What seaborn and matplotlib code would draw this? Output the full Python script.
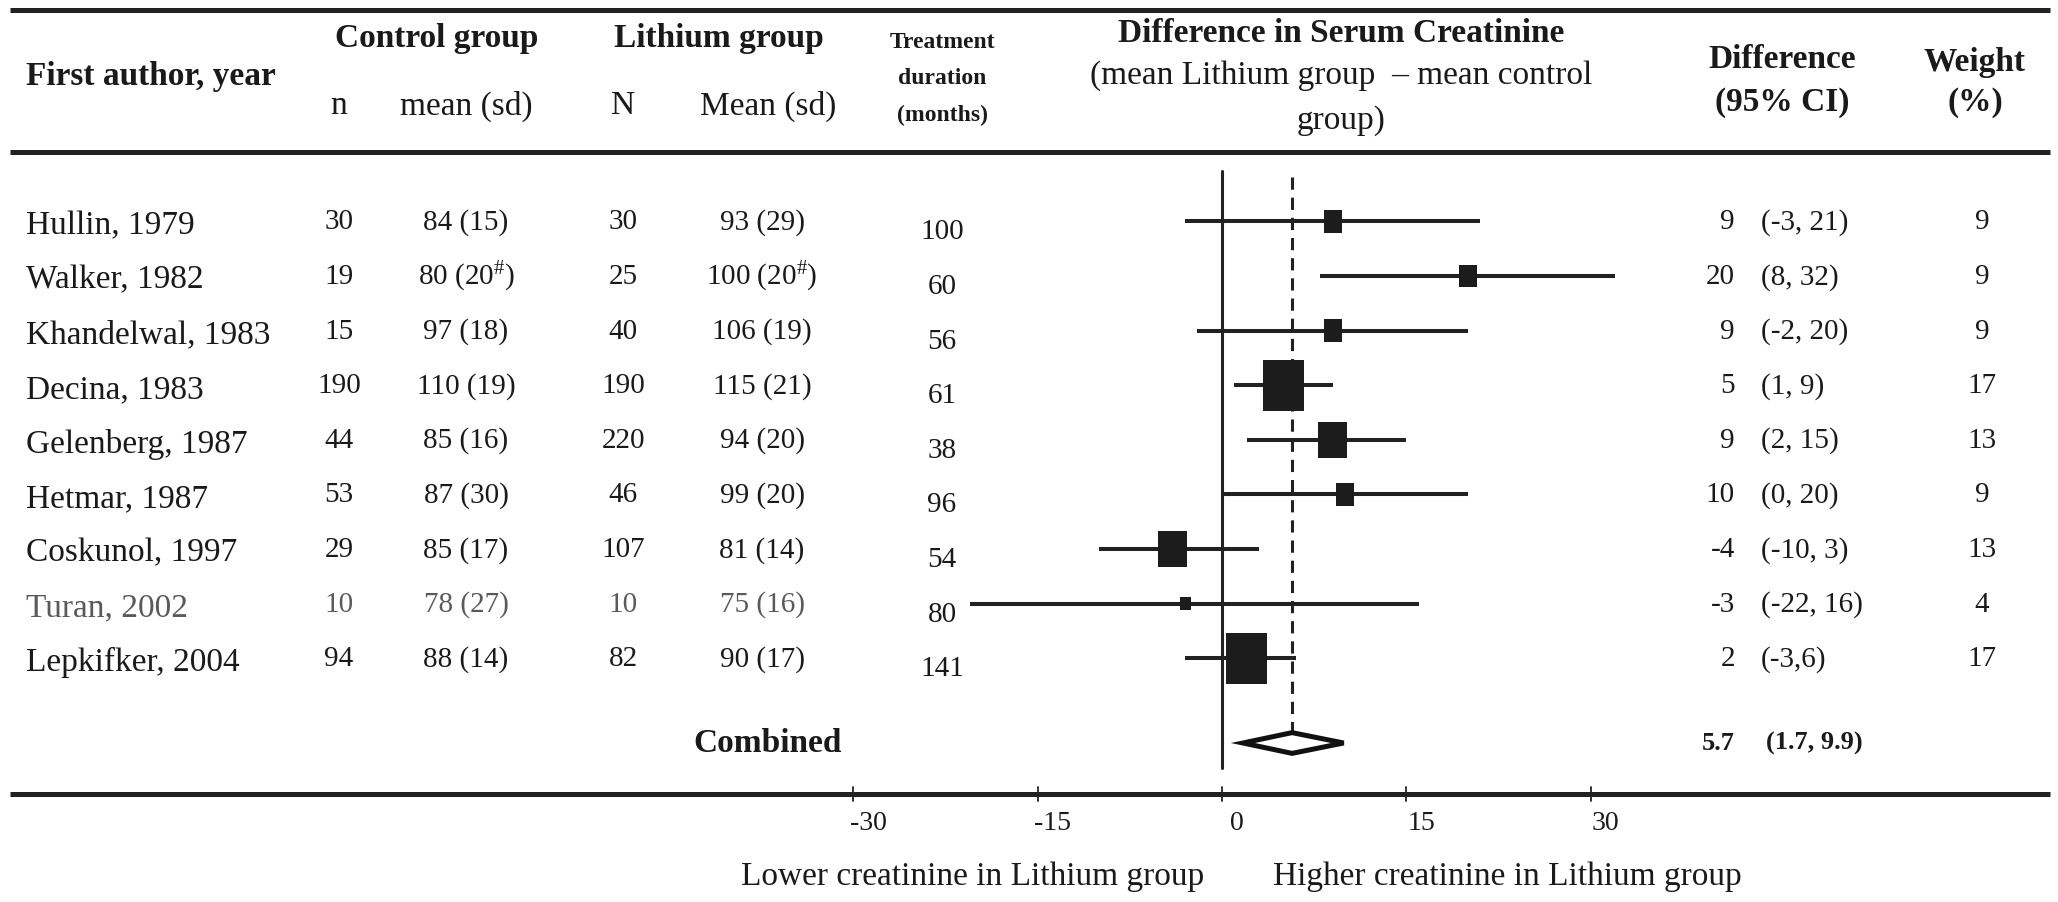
import numpy as np
import pandas as pd
import matplotlib
matplotlib.use("Agg")
import matplotlib.pyplot as plt
import seaborn as sns

# ---------------- data ----------------
studies = ["Hullin, 1979", "Walker, 1982", "Khandelwal, 1983", "Decina, 1983",
           "Gelenberg, 1987", "Hetmar, 1987", "Coskunol, 1997", "Turan, 2002",
           "Lepkifker, 2004"]
control_n = ["30", "19", "15", "190", "44", "53", "29", "10", "94"]
control_mean_sd = ["84 (15)", "80 (20$^{\\#}$)", "97 (18)", "110 (19)", "85 (16)",
                   "87 (30)", "85 (17)", "78 (27)", "88 (14)"]
lithium_n = ["30", "25", "40", "190", "220", "46", "107", "10", "82"]
lithium_mean_sd = ["93 (29)", "100 (20$^{\\#}$)", "106 (19)", "115 (21)", "94 (20)",
                   "99 (20)", "81 (14)", "75 (16)", "90 (17)"]
duration = ["100", "60", "56", "61", "38", "96", "54", "80", "141"]
diff = [9, 20, 9, 5, 9, 10, -4, -3, 2]
ci_low = [-3, 8, -2, 1, 2, 0, -10, -22, -3]
ci_high = [21, 32, 20, 9, 15, 20, 3, 16, 6]
ci_text = ["(-3, 21)", "(8, 32)", "(-2, 20)", "(1, 9)", "(2, 15)", "(0, 20)",
           "(-10, 3)", "(-22, 16)", "(-3,6)"]
weight = [9, 9, 9, 17, 13, 9, 13, 4, 17]
combined_est = 5.7
combined_low = 1.7
combined_high = 9.9
combined_text = ["5.7", "(1.7, 9.9)"]
x_ticks = [-30, -15, 0, 15, 30]
grey_rows = ["Turan, 2002"]

df = pd.DataFrame({"study": studies, "diff": diff, "lo": ci_low, "hi": ci_high,
                   "weight": weight})
df["row"] = np.arange(len(df))

# ---------------- style ----------------
sns.set_theme(style="white")
plt.rcParams["font.family"] = ["Liberation Serif", "DejaVu Serif"]
plt.rcParams["mathtext.fontset"] = "custom"
plt.rcParams["mathtext.rm"] = "Liberation Serif"
plt.rcParams["mathtext.it"] = "Liberation Serif:italic"
plt.rcParams["mathtext.bf"] = "Liberation Serif:bold"

W, H = 2058, 902
X0, PXU = 1222.0, 12.29        # pixel of x=0, pixels per unit
ROW0, ROWPX = 225.75, 54.6      # pixel of first row, pixels per row


def px_x(p):
    return (p - X0) / PXU


def px_y(p):
    return (p - ROW0) / ROWPX


TXT = "#1a1a1a"
LINE = "#222222"
GREY = "#5a5a5a"

fig = plt.figure(figsize=(W / 100, H / 100), dpi=100)
ax = fig.add_axes([0, 0, 1, 1])
ax.set_xlim(px_x(0), px_x(W))
ax.set_ylim(px_y(H), px_y(0))
ax.axis("off")

# rules
for yy in (10.5, 152, 794):
    ax.plot([px_x(10), px_x(2050)], [px_y(yy), px_y(yy)], color=LINE, lw=3.6,
            solid_capstyle="butt")

# headers
hb = dict(fontsize=24, fontweight="bold", color=TXT, va="center")
hr = dict(fontsize=24, color=TXT, va="center")
ax.text(px_x(26), px_y(76), "First author, year", ha="left", **hb)
ax.text(px_x(437), px_y(39), "Control group", ha="center", **hb)
ax.text(px_x(719), px_y(39), "Lithium group", ha="center", **hb)
ax.text(px_x(339), px_y(106), "n", ha="center", **hr)
ax.text(px_x(466), px_y(106), "mean (sd)", ha="center", **hr)
ax.text(px_x(623), px_y(106), "N", ha="center", **hr)
ax.text(px_x(768), px_y(106), "Mean (sd)", ha="center", **hr)
for yy, t in zip((42, 79, 115), ("Treatment", "duration", "(months)")):
    ax.text(px_x(942), px_y(yy), t, ha="center", fontsize=17, fontweight="bold",
            color=TXT, va="center")
ax.text(px_x(1341), px_y(33), "Difference in Serum Creatinine", ha="center", **hb)
ax.text(px_x(1341), px_y(76), "(mean Lithium group  \u2013 mean control", ha="center", **hr)
ax.text(px_x(1341), px_y(121), "group)", ha="center", **hr)
ax.text(px_x(1782), px_y(59), "Difference", ha="center", **hb)
ax.text(px_x(1782), px_y(102), "(95% CI)", ha="center", **hb)
ax.text(px_x(1975), px_y(62), "Weight", ha="center", **hb)
ax.text(px_x(1975), px_y(102), "(%)", ha="center", **hb)

# table rows
for i, s in enumerate(studies):
    c = GREY if s in grey_rows else TXT
    ax.text(px_x(26), i, s, ha="left", va="center", fontsize=24, color=c)
    ax.text(px_x(339), i - 0.06, control_n[i], ha="center", va="center", fontsize=21, color=c)
    ax.text(px_x(466), i - 0.06, control_mean_sd[i], ha="center", va="center", fontsize=21, color=c)
    ax.text(px_x(623), i - 0.06, lithium_n[i], ha="center", va="center", fontsize=21, color=c)
    ax.text(px_x(762), i - 0.06, lithium_mean_sd[i], ha="center", va="center", fontsize=21, color=c)
    ax.text(px_x(942), i + 0.12, duration[i], ha="center", va="center", fontsize=21, color=TXT)
    ax.text(px_x(1735), i - 0.06, str(diff[i]), ha="right", va="center", fontsize=21, color=TXT)
    ax.text(px_x(1761), i - 0.06, ci_text[i], ha="left", va="center", fontsize=21, color=TXT)
    ax.text(px_x(1982), i - 0.06, str(weight[i]), ha="center", va="center", fontsize=21, color=TXT)

comb_row = px_y(743)
ax.text(px_x(768), comb_row, "Combined", ha="center", va="center", fontsize=24,
        fontweight="bold", color=TXT)
ax.text(px_x(1735), comb_row, combined_text[0], ha="right", va="center", fontsize=19,
        fontweight="bold", color=TXT)
ax.text(px_x(1766), comb_row, combined_text[1], ha="left", va="center", fontsize=19,
        fontweight="bold", color=TXT)

# forest plot
FOREST_MIN = -20.5
off = -0.08
ax.plot([0, 0], [px_y(171), px_y(768)], color=LINE, lw=2.2)
ax.plot([combined_est, combined_est], [px_y(177), comb_row - 0.19], color=LINE, lw=2.2,
        linestyle=(0, (4, 2.6)))
ax.hlines(df["row"] + off, np.clip(df["lo"], FOREST_MIN, None), df["hi"],
          color=LINE, lw=2.9)

h_shr = np.maximum(0.98 * df["weight"].to_numpy() ** 1.3, 10.5)
msize_pt = h_shr * 1.3125 * 0.72
rect = [(-0.40, -0.5), (0.40, -0.5), (0.40, 0.5), (-0.40, 0.5), (-0.40, -0.5)]
sns.scatterplot(x=df["diff"], y=df["row"] + off, ax=ax, marker=rect,
                s=msize_pt ** 2, color="#1c1c1c", edgecolor="none", linewidth=0,
                legend=False, zorder=5)

dh = 0.19
ax.fill([combined_low, combined_est, combined_high, combined_est],
        [comb_row, comb_row - dh, comb_row, comb_row + dh],
        facecolor="white", edgecolor="#111111", lw=3.6, zorder=6)

# axis ticks & labels
for t in x_ticks:
    ax.plot([t, t], [px_y(787), px_y(801)], color=LINE, lw=1.3)
    ax.text(t + 1.2, px_y(823), str(t), ha="center", va="center", fontsize=20, color=TXT)
ax.text(px_x(973), px_y(877), "Lower creatinine in Lithium group", ha="center",
        va="center", fontsize=24, color=TXT)
ax.text(px_x(1507), px_y(877), "Higher creatinine in Lithium group", ha="center",
        va="center", fontsize=24, color=TXT)

fig.savefig("out.png", dpi=100)
